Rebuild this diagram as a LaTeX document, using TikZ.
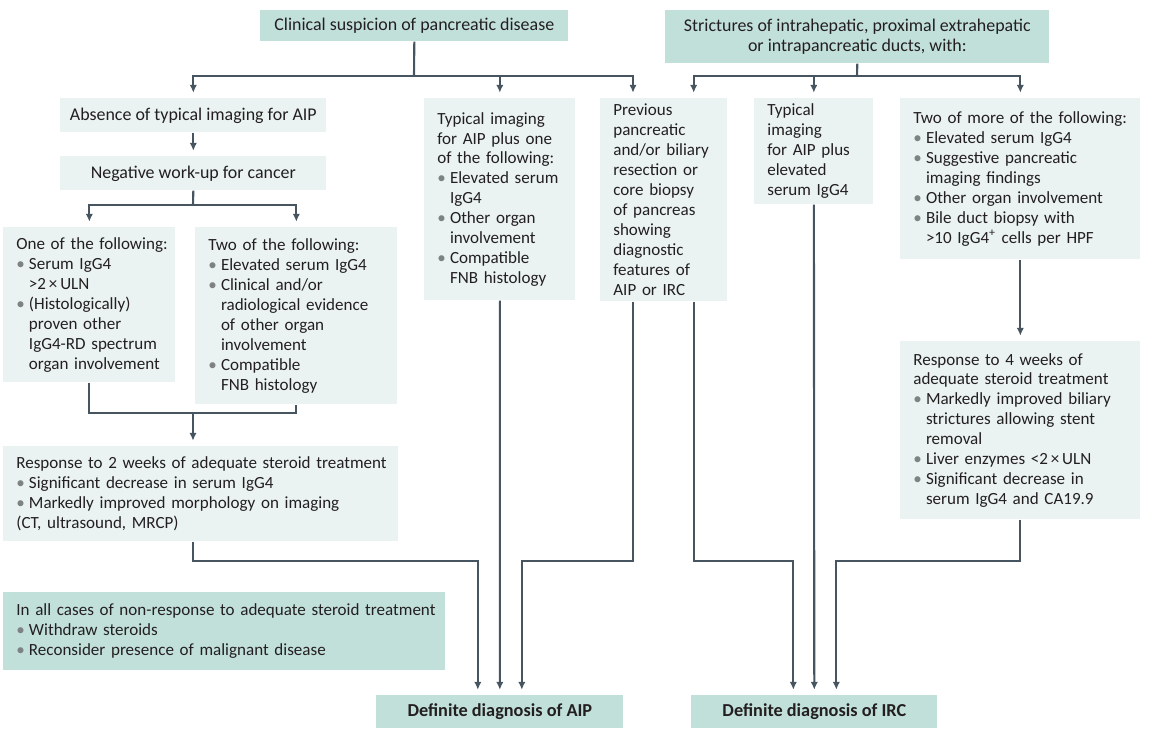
\documentclass[tikz,border=0pt]{standalone}
\usepackage{fontspec}
\setmainfont{Carlito}
\usetikzlibrary{arrows.meta,calc}
\definecolor{darkteal}{RGB}{194,224,218}
\definecolor{lightteal}{RGB}{234,243,242}
\definecolor{linegray}{RGB}{70,85,95}
\definecolor{bulgray}{RGB}{125,130,130}
\definecolor{txt}{RGB}{35,31,32}
\newcommand{\bul}{\par\hangindent=7.2pt\hangafter=1\noindent\makebox[7.2pt][l]{\textcolor{bulgray}{\textbullet}}}
\begin{document}
\begin{tikzpicture}[x=0.02cm,y=-0.02cm,
        every node/.style={font=\fontsize{9.7}{11.34}\selectfont,text=txt},
        hdr/.style={fill=darkteal,anchor=north west,inner sep=0pt,align=center,
          font=\fontsize{10.2}{11.8}\selectfont},
        cbox/.style={fill=lightteal,anchor=north west,inner sep=0pt,align=center,
          font=\fontsize{10.2}{11.8}\selectfont},
        diag/.style={hdr,font=\fontsize{10.4}{12}\selectfont\bfseries},
        txtbox/.style={fill=lightteal,anchor=north west,inner sep=0pt,align=left,
          execute at begin node={\leftskip=0.26cm\rightskip=0pt plus 1fil\hyphenpenalty=10000}},
        conn/.style={draw=linegray,line width=1.2pt},
        arr/.style={conn,-{Latex[length=4.5pt,width=4.2pt]},shorten >=3pt}]
      \useasboundingbox (0,0) rectangle (1153,735);
      % top rows
      \node (clin) at (260,10) [hdr,minimum width=6.16cm,minimum height=0.62cm]
        {Clinical suspicion of pancreatic disease};
      \node (strict) at (665,10) [hdr,minimum width=7.68cm,minimum height=1.06cm]
        {Strictures of intrahepatic, proximal extrahepatic\\or intrapancreatic ducts, with:};
      \node (absence) at (60,98) [cbox,minimum width=5.32cm,minimum height=0.68cm]
        {Absence of typical imaging for AIP};
      \node (negwork) at (60,156) [cbox,minimum width=5.32cm,minimum height=0.68cm]
        {Negative work-up for cancer};
      \node (onef) at (3,227) [txtbox,text width=3.44cm,minimum height=3.10cm]
        {One of the following:
         \bul Serum IgG4\newline >2\,×\,ULN
         \bul (Histologically)\newline proven other\newline IgG4-RD spectrum\newline organ involvement\par};
      \node (twof) at (195,227) [txtbox,text width=4.04cm,minimum height=3.54cm]
        {Two of the following:
         \bul Elevated serum IgG4
         \bul Clinical and/or\newline radiological evidence\newline of other organ\newline involvement
         \bul Compatible\newline FNB histology\par};
      \node (resp2) at (3,446) [txtbox,text width=7.90cm,minimum height=1.90cm]
        {Response to 2 weeks of adequate steroid treatment
         \bul Significant decrease in serum IgG4
         \bul Markedly improved morphology on imaging
         \par\noindent(CT, ultrasound, MRCP)\par};
      \node (typplus) at (424,98) [txtbox,text width=3.02cm,minimum height=4.04cm]
        {Typical imaging\\for AIP plus one\\of the following:
         \bul Elevated serum\newline IgG4
         \bul Other organ\newline involvement
         \bul Compatible\newline FNB histology\par};
      \node (prev) at (600,98) [txtbox,text width=2.54cm,minimum height=4.06cm]
        {Previous\\pancreatic\\and/or biliary\\resection or\\core biopsy\\of pancreas\\showing\\diagnostic\\features of\\AIP or IRC};
      \node (typelev) at (754,98) [txtbox,text width=2.38cm,minimum height=2.12cm]
        {Typical\\imaging\\for AIP plus\\elevated\\serum IgG4};
      \node (twomore) at (900,98) [txtbox,text width=4.80cm,minimum height=3.22cm]
        {Two of more of the following:
         \bul Elevated serum IgG4
         \bul Suggestive pancreatic\newline imaging findings
         \bul Other organ involvement
         \bul Bile duct biopsy with\newline >10 IgG4\textsuperscript{+} cells per HPF\par};
      \node (resp4) at (900,341) [txtbox,text width=4.80cm,minimum height=3.56cm]
        {Response to 4 weeks of\\adequate steroid treatment
         \bul Markedly improved biliary\newline strictures allowing stent\newline removal
         \bul Liver enzymes <2\,×\,ULN
         \bul Significant decrease in\newline serum IgG4 and CA19.9\par};
      \node (allcases) at (3,592) [txtbox,fill=darkteal,text width=8.84cm,minimum height=1.56cm]
        {In all cases of non-response to adequate steroid treatment
         \bul Withdraw steroids
         \bul Reconsider presence of malignant disease\par};
      % final diagnoses
      \node (defaip) at (376,695) [diag,minimum width=4.94cm,minimum height=0.66cm]
        {Definite diagnosis of AIP};
      \node (defirc) at (691,695) [diag,minimum width=4.92cm,minimum height=0.66cm]
        {Definite diagnosis of IRC};
      % junctions
      \coordinate (splitL) at (414,76);
      \coordinate (splitR) at (857,76);
      \coordinate (splitN) at (193,205);
      \coordinate (joinT) at (193,413);
      \coordinate (bus) at (0,561);
      \coordinate (previnL) at ($(prev.north west)+(33,0)$);
      \coordinate (previnR) at ($(prev.north east)+(-34,0)$);
      \coordinate (prevL) at ($(prev.south west)+(33,0)$);
      \coordinate (prevR) at ($(prev.south east)+(-34,0)$);
      \coordinate (aipL) at ($(defaip.north)+(-22,0)$);
      \coordinate (aipR) at ($(defaip.north)+(22,0)$);
      \coordinate (ircL) at ($(defirc.north)+(-21,0)$);
      \coordinate (ircR) at ($(defirc.north)+(22,0)$);
      % connectors
      \draw[conn] (clin.south) -- (splitL);
      \draw[arr] (splitL) -| (absence.north);
      \draw[arr] (splitL) -| (typplus.north);
      \draw[arr] (splitL) -| (previnL);
      \draw[conn] (strict.south) -- (splitR);
      \draw[arr] (splitR) -| (previnR);
      \draw[arr] (splitR) -| (typelev.north);
      \draw[arr] (splitR) -| (twomore.north);
      \draw[arr] (absence) -- (negwork);
      \draw[conn] (negwork.south) -- (splitN);
      \draw[arr] (splitN) -| (onef.north);
      \draw[arr] (splitN) -| (twof.north);
      \draw[conn] (onef.south) |- (joinT) -| (twof.south);
      \draw[arr] (joinT) -- (joinT |- resp2.north);
      \draw[arr] (resp2.south -| joinT) |- (aipL |- bus) -- (aipL);
      \draw[arr] (typplus) -- (defaip);
      \draw[arr] (prevL) |- (aipR |- bus) -- (aipR);
      \draw[arr] (prevR) |- (ircL |- bus) -- (ircL);
      \draw[arr] (typelev) -- (defirc);
      \draw[arr] (twomore) -- (resp4);
      \draw[arr] (resp4) |- (ircR |- bus) -- (ircR);
\end{tikzpicture}
\end{document}
